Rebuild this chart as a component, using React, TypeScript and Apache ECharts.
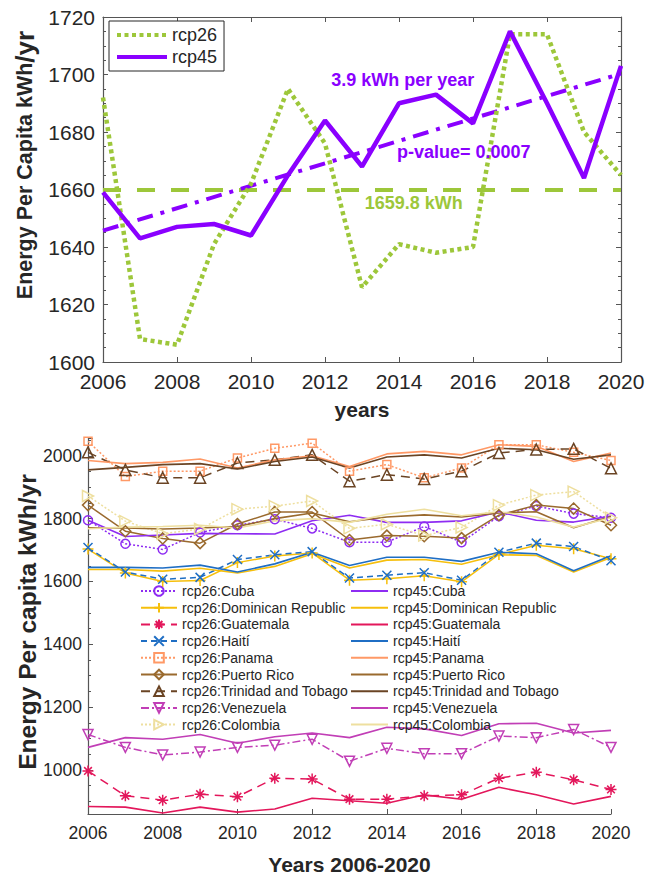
import React, { useEffect, useRef } from "react";
import * as echarts from "echarts";

// ---------- data ----------
const years = [2006, 2007, 2008, 2009, 2010, 2011, 2012, 2013, 2014, 2015, 2016, 2017, 2018, 2019, 2020];

// Regional per-capita energy (upper panel)
const rcp26Regional = [1692, 1608, 1606, 1641, 1662, 1695, 1676, 1626, 1641, 1638, 1640, 1714, 1714, 1680, 1665];
const rcp45Regional = [1659, 1643, 1647, 1648, 1644, 1665, 1684, 1668, 1690, 1693, 1683, 1715, 1690, 1664, 1703];
const rcp26Mean = 1659.8;
const rcp45Slope = 3.9; // kWh per year
const rcp45TrendMid = 1673; // trend value at 2013
const rcp45TrendMidYear = 2013;
const rcp45PValue = "0.0007";

// Country series (lower panel)
const countries = ["Cuba", "Dominican Republic", "Guatemala", "Haití", "Panama", "Puerto Rico", "Trinidad and Tobago", "Venezuela", "Colombia"];

const cuba26 = [1795, 1720, 1702, 1756, 1779, 1798, 1769, 1725, 1725, 1775, 1725, 1808, 1840, 1816, 1803];
const cuba45 = [1795, 1743, 1748, 1753, 1752, 1751, 1793, 1811, 1788, 1788, 1793, 1821, 1795, 1789, 1808];
const dominican26 = [1703, 1627, 1600, 1603, 1660, 1681, 1691, 1604, 1609, 1618, 1599, 1686, 1715, 1704, 1672];
const dominican45 = [1638, 1638, 1633, 1642, 1627, 1648, 1688, 1643, 1668, 1670, 1655, 1685, 1683, 1630, 1676];
const guatemala26 = [997, 918, 904, 923, 915, 974, 971, 907, 907, 918, 921, 974, 993, 969, 938];
const guatemala45 = [884, 882, 863, 882, 866, 876, 910, 902, 894, 921, 907, 945, 921, 892, 916];
const haiti26 = [1708, 1630, 1607, 1613, 1670, 1685, 1695, 1611, 1620, 1628, 1604, 1693, 1722, 1711, 1666];
const haiti45 = [1645, 1645, 1643, 1652, 1630, 1656, 1693, 1651, 1677, 1677, 1664, 1693, 1688, 1634, 1682];
const panama26 = [2046, 1934, 1951, 1951, 1993, 2024, 2040, 1951, 1972, 1930, 1961, 2035, 2035, 2011, 1985];
const panama45 = [1985, 1975, 1979, 1990, 1961, 1987, 2000, 1966, 2006, 2014, 2003, 2035, 2030, 1982, 2009];
const puertoRico26 = [1843, 1760, 1737, 1722, 1783, 1821, 1821, 1732, 1746, 1744, 1738, 1811, 1843, 1832, 1779];
const puertoRico45 = [1771, 1770, 1767, 1770, 1775, 1800, 1818, 1790, 1805, 1812, 1805, 1818, 1822, 1771, 1807];
const trinidad26 = [2011, 1955, 1930, 1930, 1977, 1987, 2003, 1919, 1940, 1926, 1951, 2009, 2020, 2022, 1960];
const trinidad45 = [1955, 1963, 1972, 1975, 1958, 1982, 1996, 1961, 1996, 2003, 1993, 2024, 2019, 1989, 2003];
const venezuela26 = [1113, 1072, 1048, 1057, 1072, 1079, 1098, 1028, 1069, 1052, 1052, 1108, 1103, 1129, 1072];
const venezuela45 = [1072, 1103, 1098, 1113, 1085, 1106, 1118, 1103, 1136, 1131, 1110, 1147, 1149, 1118, 1126];
const colombia26 = [1872, 1792, 1752, 1767, 1830, 1840, 1856, 1769, 1782, 1746, 1772, 1843, 1875, 1886, 1803];
const colombia45 = [1768, 1773, 1775, 1779, 1770, 1793, 1800, 1788, 1814, 1830, 1809, 1822, 1805, 1773, 1803];

const rcp26ByCountry = [cuba26, dominican26, guatemala26, haiti26, panama26, puertoRico26, trinidad26, venezuela26, colombia26];
const rcp45ByCountry = [cuba45, dominican45, guatemala45, haiti45, panama45, puertoRico45, trinidad45, venezuela45, colombia45];

// ---------- styling ----------
const FONT = "'Liberation Sans', Arial, Helvetica, sans-serif";
const INK = "#262626";
const AXIS = "#555555";
const GREEN = "#9DC73A";
const PURPLE = "#8A00FF";

const SYM = {
  plus: "path://M0,-1L0,1M-1,0L1,0",
  cross: "path://M-1,-1L1,1M-1,1L1,-1",
  star: "path://M0,-1L0,1M-1,0L1,0M-0.7,-0.7L0.7,0.7M-0.7,0.7L0.7,-0.7",
  down: "path://M-1,-1L1,-1L0,1Z",
  right: "path://M-1,-1L1,0L-1,1Z",
};

const countryStyles: { color: string; dash: any; symbol: string; size: number }[] = [
  { color: "#8E2CF2", dash: [2, 2], symbol: "circle", size: 9 },
  { color: "#F6BF0C", dash: "solid", symbol: SYM.plus, size: 11 },
  { color: "#E3175B", dash: [9, 6], symbol: SYM.star, size: 11 },
  { color: "#1F6EC4", dash: [6, 4], symbol: SYM.cross, size: 9 },
  { color: "#FF9966", dash: [2, 2], symbol: "rect", size: 8 },
  { color: "#9A6A2E", dash: "solid", symbol: "diamond", size: 11 },
  { color: "#6A4424", dash: [9, 6], symbol: "triangle", size: 11 },
  { color: "#C13EB6", dash: [8, 3, 2, 3], symbol: SYM.down, size: 10 },
  { color: "#EEDF9F", dash: [2, 2], symbol: SYM.right, size: 11 },
];

const pairs = (vals: number[]) => years.map((y, i) => [y, vals[i]]);
const plainNumber = (v: number) => String(v);
// legend entry whose series has no marker: show only its line
const lineOnly = (name: string) => ({ name, itemStyle: { opacity: 0 } });

function buildOption() {
  const trendAt = (y: number) => rcp45TrendMid + rcp45Slope * (y - rcp45TrendMidYear);
  const firstYear = years[0];
  const lastYear = years[years.length - 1];

  const names26 = countries.map((c) => `rcp26:${c}`);
  const names45 = countries.map((c) => `rcp45:${c}`);

  const countrySeries26 = countries.map((c, i) => {
    const s = countryStyles[i];
    return {
      name: names26[i],
      type: "line",
      xAxisIndex: 2,
      yAxisIndex: 2,
      data: pairs(rcp26ByCountry[i]),
      symbol: s.symbol,
      symbolSize: s.size,
      lineStyle: { color: s.color, width: 1.5, type: s.dash },
      itemStyle: { color: "rgba(255,255,255,0)", borderColor: s.color, borderWidth: 1.5 },
      silent: true,
    };
  });
  const countrySeries45 = countries.map((c, i) => {
    const s = countryStyles[i];
    return {
      name: names45[i],
      type: "line",
      xAxisIndex: 2,
      yAxisIndex: 2,
      data: pairs(rcp45ByCountry[i]),
      symbol: "none",
      lineStyle: { color: s.color, width: 1.6, type: "solid" },
      itemStyle: { color: s.color },
      silent: true,
    };
  });

  const tickLabel = (size: number, margin: number) => ({
    fontSize: size,
    color: INK,
    fontFamily: FONT,
    margin,
    formatter: plainNumber,
  });
  const axisLine = { show: true, onZero: false, lineStyle: { color: AXIS, width: 1.2 } };
  const axisTick = { show: true, inside: true, length: 5, lineStyle: { color: AXIS, width: 1 } };
  const minorTick = { show: true, splitNumber: 4, length: 3, lineStyle: { color: AXIS, width: 1 } };

  return {
    animation: false,
    textStyle: { fontFamily: FONT },
    grid: [
      { left: 103, top: 17, width: 518, height: 345 },
      { left: 88, top: 438.5, width: 523, height: 379.5 },
    ],
    xAxis: [
      {
        gridIndex: 0, type: "value", min: 2006, max: 2020, interval: 2, position: "bottom",
        axisLine, axisTick, splitLine: { show: false }, axisLabel: tickLabel(21, 9),
        name: "years", nameLocation: "middle", nameGap: 37,
        nameTextStyle: { fontSize: 21, fontWeight: "bold", color: INK, fontFamily: FONT },
      },
      {
        gridIndex: 0, type: "value", min: 2006, max: 2020, interval: 2, position: "top",
        axisLine, axisTick, splitLine: { show: false }, axisLabel: { show: false },
      },
      {
        gridIndex: 1, type: "value", min: 2006, max: 2020, interval: 2, position: "bottom",
        axisLine, axisTick, splitLine: { show: false }, axisLabel: tickLabel(17.5, 10),
        name: "Years 2006-2020", nameLocation: "middle", nameGap: 40,
        nameTextStyle: { fontSize: 21, fontWeight: "bold", color: INK, fontFamily: FONT },
      },
    ],
    yAxis: [
      {
        gridIndex: 0, type: "value", min: 1600, max: 1720, interval: 20, position: "left",
        axisLine, axisTick, minorTick, splitLine: { show: false }, minorSplitLine: { show: false },
        axisLabel: tickLabel(21, 8),
      },
      {
        gridIndex: 0, type: "value", min: 1600, max: 1720, interval: 20, position: "right",
        axisLine, axisTick, minorTick, splitLine: { show: false }, minorSplitLine: { show: false },
        axisLabel: { show: false },
      },
      {
        gridIndex: 1, type: "value", min: 860, max: 2055, position: "left",
        axisLine, axisTick, minorTick, splitLine: { show: false }, minorSplitLine: { show: false },
        axisLabel: { ...tickLabel(17.5, 6), showMinLabel: false, showMaxLabel: false },
      },
    ],
    legend: [
      {
        data: [lineOnly("rcp26"), lineOnly("rcp45")],
        orient: "vertical",
        left: 109,
        top: 21,
        padding: [5, 7, 5, 6],
        itemWidth: 50,
        itemHeight: 18,
        itemGap: 4,
        borderColor: INK,
        borderWidth: 1,
        borderRadius: 0,
        backgroundColor: "#ffffff",
        selectedMode: false,
        lineStyle: { width: 4 },
        textStyle: { fontSize: 18, color: INK, fontFamily: FONT },
      },
      {
        data: names26,
        orient: "vertical",
        left: 140,
        top: 584,
        padding: 0,
        itemWidth: 36,
        itemHeight: 12,
        itemGap: 2.7,
        selectedMode: false,
        textStyle: { fontSize: 14, color: INK, fontFamily: FONT },
      },
      {
        data: names45.map(lineOnly),
        orient: "vertical",
        left: 350,
        top: 584,
        padding: 0,
        itemWidth: 37,
        itemHeight: 12,
        itemGap: 2.7,
        selectedMode: false,
        textStyle: { fontSize: 14, color: INK, fontFamily: FONT },
      },
    ],
    graphic: [
      {
        type: "text",
        x: 25,
        y: 165,
        rotation: Math.PI / 2,
        style: {
          text: "{a|Energy Per Capita kWh}{b|/yr}",
          align: "center",
          verticalAlign: "middle",
          rich: {
            a: { fontSize: 21.5, fontWeight: "bold", fill: INK, fontFamily: FONT },
            b: { fontSize: 26, fontWeight: "bold", fill: INK, fontFamily: FONT },
          },
        },
      },
      {
        type: "text",
        x: 27,
        y: 622,
        rotation: Math.PI / 2,
        style: {
          text: "Energy Per capita kWh/yr",
          align: "center",
          verticalAlign: "middle",
          fontSize: 24.5,
          fontWeight: "bold",
          fill: INK,
          fontFamily: FONT,
        },
      },
    ],
    series: [
      {
        name: "rcp26-mean",
        type: "line",
        xAxisIndex: 0,
        yAxisIndex: 0,
        data: [[firstYear, rcp26Mean], [lastYear, rcp26Mean]],
        symbol: "none",
        lineStyle: { color: GREEN, width: 4, type: [18, 16] },
        silent: true,
        markPoint: {
          symbol: "circle",
          symbolSize: 1,
          itemStyle: { color: "rgba(0,0,0,0)" },
          silent: true,
          label: { show: true, position: "inside", color: GREEN, fontSize: 18, fontWeight: "bold", fontFamily: FONT },
          data: [{ coord: [2014.4, rcp26Mean - 4.5], value: rcp26Mean, label: { formatter: `${rcp26Mean} kWh` } }],
        },
      },
      {
        name: "rcp45-trend",
        type: "line",
        xAxisIndex: 0,
        yAxisIndex: 0,
        data: [[firstYear, trendAt(firstYear)], [lastYear, trendAt(lastYear)]],
        symbol: "none",
        lineStyle: { color: PURPLE, width: 4, type: [16, 8, 4, 8] },
        silent: true,
        markPoint: {
          symbol: "circle",
          symbolSize: 1,
          itemStyle: { color: "rgba(0,0,0,0)" },
          silent: true,
          label: { show: true, position: "inside", color: PURPLE, fontSize: 18, fontWeight: "bold", fontFamily: FONT },
          data: [
            { coord: [2014.1, 1698], value: rcp45Slope, label: { formatter: `${rcp45Slope} kWh per year` } },
            { coord: [2015.75, 1673], value: 0, label: { formatter: `p-value= ${rcp45PValue}` } },
          ],
        },
      },
      {
        name: "rcp26",
        type: "line",
        xAxisIndex: 0,
        yAxisIndex: 0,
        data: pairs(rcp26Regional),
        symbol: "none",
        lineStyle: { color: GREEN, width: 4.5, type: [4, 3.5] },
        itemStyle: { color: GREEN },
        silent: true,
      },
      {
        name: "rcp45",
        type: "line",
        xAxisIndex: 0,
        yAxisIndex: 0,
        data: pairs(rcp45Regional),
        symbol: "none",
        lineStyle: { color: PURPLE, width: 4.5, type: "solid" },
        itemStyle: { color: PURPLE },
        silent: true,
      },
      ...countrySeries26,
      ...countrySeries45,
    ],
  };
}

export default function App() {
  const ref = useRef<HTMLDivElement>(null);

  useEffect(() => {
    document.body.style.margin = "0";
    if (!ref.current) return;
    const chart = echarts.init(ref.current, undefined, { renderer: "svg" });
    chart.setOption(buildOption() as any);
    return () => chart.dispose();
  }, []);

  return <div ref={ref} style={{ width: 662, height: 876, background: "#ffffff" }} />;
}
